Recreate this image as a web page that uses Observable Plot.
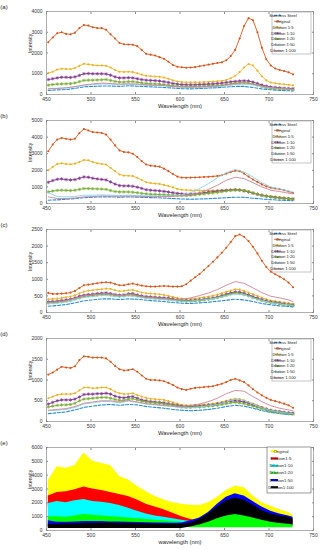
<!DOCTYPE html>
<html>
<head>
<meta charset="utf-8">
<script src="https://cdn.jsdelivr.net/npm/d3@7"></script>
<script src="https://cdn.jsdelivr.net/npm/@observablehq/plot@0.6"></script>
<style>
  html, body { margin: 0; padding: 0; background: #fff; }
  #chart { width: 325px; padding-top: 1px; position: relative; }
  #chart svg { display: block; overflow: visible; }
</style>
</head>
<body>
<div id="chart"></div>
<script>
// ---------- shared axes / categories ----------
const X_TICKS = [450, 500, 550, 600, 650, 700, 750];
const W = [452,457,462,467,472,477,482,487,492,497,502,507,512,517,522,527,532,537,542,547,552,557,562,567,572,577,582,587,592,597,602,607,612,617,622,627,632,637,642,647,652,657,662,667,672,677,682,687,692,697,702,707,712,717,722,727];
const W10 = [452,462,472,482,492,502,512,522,532,542,552,562,572,582,592,602,612,622,632,642,652,662,672,682,692,702,712,722,727];
const SERIES_NAMES = ["Stainless Steel", "Original", "Dilution 1:5", "Dilution 1:10", "Dilution 1:20", "Dilution 1:50", "Dilution 1:100"];
const E_NAMES = ["Original", "Dilution1:5", "Dilution1:10", "Dilution1:20", "Dilution1:50", "Dilution1:100"];
const Y_TICKS_A = [0, 1000, 2000, 3000, 4000];
const Y_TICKS_B = [0, 1000, 2000, 3000, 4000, 5000];
const Y_TICKS_C = [0, 500, 1000, 1500, 2000, 2500];
const Y_TICKS_D = [0, 500, 1000, 1500, 2000];
const Y_TICKS_E = [0, 1000, 2000, 3000, 4000, 5000, 6000];

// ---------- panel (a) ----------
const a_steel = [200,220,240,290,370,390,410,410,390,420,400,380,360,340,310,280,270,290,310,330,360,390,390,340,270,230,200,180,170];
const a_original = [2520,2750,2950,3000,2920,2900,2980,3200,3350,3320,3240,3200,3200,3120,2900,2700,2480,2420,2410,2400,2330,2150,1960,1920,1880,1800,1720,1580,1420,1340,1310,1290,1300,1320,1360,1400,1440,1480,1520,1550,1650,1850,2150,2700,3300,3680,3580,3000,2250,1700,1400,1250,1180,1130,1070,970];
const a_d5 = [1030,1100,1200,1240,1230,1220,1280,1380,1480,1450,1420,1400,1400,1380,1300,1180,1100,1090,1100,1080,1020,960,900,880,870,850,820,760,680,630,600,590,590,590,590,600,610,620,640,660,700,780,900,1080,1300,1470,1400,1150,880,680,580,540,510,490,470,440];
const a_d10 = [720,760,800,830,830,820,850,920,1000,1010,1000,1000,1000,990,930,850,800,800,810,800,760,720,690,680,670,650,620,580,530,500,480,470,470,470,480,490,500,510,530,550,580,610,630,650,660,650,600,530,460,400,360,340,320,300,290,280];
const a_d20 = [450,480,500,510,515,520,560,620,680,690,690,700,710,720,680,630,600,600,620,620,590,560,530,520,510,500,480,450,420,400,390,380,380,390,390,400,410,420,430,450,480,510,540,560,570,560,510,450,380,330,300,280,270,260,250,240];
const a_d50 = [290,300,320,370,440,480,510,500,470,490,470,440,430,420,380,350,340,350,370,390,430,480,500,460,380,320,280,250,240];
const a_d100 = [270,290,320,380,460,510,550,530,500,520,500,470,450,430,390,370,360,370,390,410,460,520,560,500,400,330,290,260,250];

// ---------- panel (b) ----------
const b_steel = [200,220,250,300,350,380,400,400,380,400,380,360,350,330,300,270,260,270,290,320,350,380,370,320,270,230,200,180,170];
const b_original = [3150,3550,3850,3950,3900,3850,3900,4250,4480,4400,4300,4280,4250,4150,3850,3500,3200,3100,3080,3000,2800,2550,2350,2280,2250,2220,2100,1950,1780,1620,1560,1550,1560,1570,1580,1600,1610,1630,1660,1700,1800,1900,1970,1950,1800,1620,1450,1300,1150,1030,950,900,860,800,720,640];
const b_d5 = [2000,2200,2380,2420,2380,2360,2400,2500,2620,2600,2500,2420,2380,2350,2150,1950,1750,1680,1670,1650,1550,1420,1280,1230,1200,1180,1120,1050,970,880,830,810,800,790,780,780,780,780,790,800,810,830,850,840,800,730,650,580,520,470,430,400,370,340,310,290];
const b_d10 = [1280,1380,1460,1480,1440,1420,1440,1520,1600,1580,1520,1480,1450,1420,1300,1170,1080,1060,1060,1040,980,910,830,800,780,760,730,690,650,610,580,560,560,580,610,650,680,710,740,770,790,810,820,810,760,700,620,550,490,440,400,370,340,310,290,270];
const b_d20 = [700,750,790,800,790,780,800,850,900,900,890,880,870,850,780,720,700,700,700,680,650,610,580,560,550,540,530,510,500,490,480,470,490,520,550,580,610,640,670,710,750,790,810,800,770,710,640,570,500,440,400,360,330,310,290,270];
const b_d50 = [650,420,400,420,500,500,520,500,480,500,480,460,450,450,460,520,650,900,1200,1550,1850,2050,1900,1600,1250,1000,880,750,680];
const b_d100 = [400,300,300,330,400,420,450,440,430,450,430,420,410,420,430,460,520,650,850,1100,1400,1580,1500,1250,1000,800,720,620,580];

// ---------- panel (c) ----------
const c_steel = [190,210,240,290,350,380,410,410,390,410,400,370,350,330,300,280,270,290,310,340,370,400,380,330,270,230,200,180,170];
const c_original = [590,560,560,570,580,600,650,740,820,840,860,880,900,910,900,860,820,820,850,870,840,810,790,780,780,790,800,790,780,780,790,850,960,1060,1160,1280,1400,1530,1660,1800,1950,2120,2300,2350,2280,2150,1980,1780,1560,1370,1230,1150,1080,1000,900,760];
const c_d5 = [400,410,420,440,460,480,520,580,630,660,670,690,700,720,710,670,640,650,670,680,640,600,580,570,560,550,530,500,470,440,420,410,410,420,440,460,480,510,540,580,620,660,700,690,650,600,550,500,450,400,360,340,320,300,280,250];
const c_d10 = [320,330,340,360,380,400,440,490,520,540,550,570,580,590,570,540,520,530,560,570,530,500,480,470,460,450,440,430,410,380,370,360,360,370,380,400,420,440,470,510,550,590,620,610,580,530,480,430,390,350,320,300,280,260,240,230];
const c_d20 = [290,300,310,320,340,360,400,440,480,500,510,530,540,550,530,510,490,500,530,540,500,470,450,440,430,420,410,400,380,360,350,340,340,350,360,380,400,420,450,480,520,560,580,570,540,500,450,400,360,330,300,280,260,240,230,220];
const c_d50 = [260,280,320,390,450,480,510,500,470,500,470,430,410,390,360,340,340,370,400,440,500,560,530,440,360,300,260,230,210];
const c_d100 = [300,320,360,430,500,530,560,550,510,540,500,460,440,420,400,400,440,510,590,690,820,930,880,740,600,490,440,380,330];

// ---------- panel (d) ----------
const d_steel = [190,210,230,280,340,370,400,410,390,410,400,360,340,320,290,270,260,270,290,320,360,390,370,320,260,220,190,170,160];
const d_original = [1130,1180,1250,1320,1300,1290,1330,1480,1570,1560,1540,1540,1540,1520,1440,1340,1260,1230,1240,1260,1200,1110,1030,1000,1000,990,970,930,880,820,780,760,790,810,820,830,840,850,880,910,950,1000,1030,990,950,870,780,700,630,570,520,490,460,430,390,330];
const d_d5 = [560,600,640,660,660,660,680,750,820,820,800,810,820,820,780,720,680,660,670,680,640,600,570,550,540,530,520,490,460,430,400,390,390,400,400,410,420,430,450,470,500,530,550,540,510,470,430,390,350,310,280,260,240,220,210,200];
const d_d10 = [420,460,500,520,520,520,540,590,650,660,660,670,670,680,660,610,580,570,590,600,560,520,500,480,470,460,450,430,410,390,370,360,360,370,370,380,390,400,420,440,470,490,500,490,470,440,400,360,330,300,270,250,240,220,210,200];
const d_d20 = [350,370,390,400,400,410,440,500,540,550,560,570,580,580,560,530,510,510,540,550,520,490,470,460,450,440,420,410,390,370,350,340,340,350,350,360,370,380,390,410,430,450,460,450,430,400,370,340,310,280,250,230,220,200,190,180];
const d_d50 = [260,270,290,340,420,450,480,480,450,490,460,420,400,380,360,330,330,350,380,410,470,540,510,420,330,270,230,200,190];
const d_d100 = [270,290,310,360,440,470,500,500,470,510,470,430,410,390,370,360,380,420,480,560,670,750,730,600,480,380,320,280,260];

// ---------- panel (e): envelopes of the many spectra ----------
const e_orig_hi = [3600,4600,4500,4700,5600,5000,4850,4700,3900,3650,3200,2800,2450,2200,2000,1900,1820,1800,2000,2400,2900,3200,3100,2500,2000,1750,1500,1300,1100];
const e_orig_lo = [2300,2500,2550,2600,2800,2700,2600,2400,2300,2200,1950,1700,1450,1200,1000,850,700,650,700,900,1200,1300,1200,1000,800,700,600,500,450];
const e_d5_hi = [2500,2750,2800,2950,3150,3000,2900,2750,2600,2450,2200,1900,1700,1500,1250,1000,800,650,650,800,1000,1100,1000,900,700,600,500,450,400];
const e_d5_lo = [1700,1900,1800,1900,2000,1950,1900,1800,1600,1400,1200,1050,900,800,700,600,500,450,450,450,450,450,450,450,400,400,350,350,300];
const e_d10_hi = [1950,2100,2000,2150,2250,2100,2050,1950,1800,1600,1400,1200,1050,950,850,750,650,600,650,800,950,1050,950,800,650,550,480,430,400];
const e_d10_lo = [700,700,700,750,800,800,750,700,650,600,550,500,480,450,420,400,400,400,400,400,400,400,400,400,350,350,300,300,300];
const e_d20_hi = [1000,1000,950,1050,1150,1100,1050,1000,950,900,850,800,750,700,650,600,600,700,850,1000,1150,1250,1150,1000,850,700,600,550,500];
const e_d20_lo = [250,250,250,250,250,250,250,250,250,250,250,250,250,250,250,250,200,200,200,200,200,200,200,200,200,200,200,200,200];
const e_d50_hi = [700,600,600,620,650,650,650,620,620,600,580,560,550,540,530,550,700,900,1300,1900,2400,2650,2500,2100,1700,1400,1200,1050,950];
const e_d50_lo = [250,250,250,250,250,250,250,250,250,250,250,250,250,250,250,250,400,500,700,900,1100,1200,1100,950,800,650,550,500,450];
const e_d100_hi = [450,450,480,480,520,530,550,550,520,520,500,480,470,460,450,450,550,800,1200,1700,2150,2350,2200,1850,1450,1200,1050,950,850];
const e_d100_lo = [150,150,150,150,150,150,150,150,150,150,150,150,150,150,150,150,250,400,600,850,1050,1150,1050,900,750,600,500,450,400];

// ---------- styles ----------
const SERIES_COLORS = ["#2b8fd6", "#D95319", "#EDB120", "#7E2F8E", "#77AC30", "#86d2f0", "#cf8396"];
const SERIES_DASH = ["3,1.6", null, null, null, null, null, null];
const SERIES_MARK = [null, "circle", "circle", "asterisk", "asterisk", null, null];
const E_COLORS = ["#FFFF00", "#FF0000", "#00FFFF", "#00FF00", "#0000FF", "#000000"];
const FONT = "'Liberation Sans', Arial, Helvetica, sans-serif";

const toPts = (xs, ys) => xs.map((x, i) => ({x, y: ys[i]}));
const toBand = (xs, lo, hi) => xs.map((x, i) => ({x, lo: lo[i], hi: hi[i]}));

function axes(yTicks, xLabel) {
  const fmt = d3.format("d");
  return [
    Plot.frame({stroke: "#8c8c8c", strokeWidth: 0.7}),
    Plot.axisX({ticks: X_TICKS, tickSize: 0, tickPadding: 3, tickFormat: fmt, label: null, fontSize: 5, color: "#333"}),
    Plot.axisX({ticks: X_TICKS, tickSize: -2, tickFormat: () => "", label: null, color: "#8c8c8c"}),
    Plot.axisX({anchor: "top", ticks: X_TICKS, tickSize: -2, tickFormat: () => "", label: null, color: "#8c8c8c"}),
    Plot.axisY({ticks: yTicks, tickSize: 0, tickPadding: 4, tickFormat: fmt, label: null, fontSize: 5, color: "#333"}),
    Plot.axisY({ticks: yTicks, tickSize: -2, tickFormat: () => "", label: null, color: "#8c8c8c"}),
    Plot.axisY({anchor: "right", ticks: yTicks, tickSize: -2, tickFormat: () => "", label: null, color: "#8c8c8c"}),
    Plot.text([xLabel], {text: d => d, frameAnchor: "bottom", dy: 13.5, fontSize: 5.8, fill: "#222"}),
    Plot.text(["Intensity"], {text: d => d, frameAnchor: "left", rotate: -90, dx: -16, fontSize: 5.2, fill: "#222"})
  ];
}

const MT = 10, MR = 12, ML = 46, W_SVG = 325;

function linePanel(tag, yTicks, seriesData) {
  const marks = [];
  seriesData.forEach((pts, i) => {
    marks.push(Plot.line(pts, {x: "x", y: "y", stroke: SERIES_COLORS[i], strokeWidth: i === 0 ? 1.1 : 0.9, strokeDasharray: SERIES_DASH[i]}));
    if (SERIES_MARK[i] === "circle") marks.push(Plot.dot(pts, {x: "x", y: "y", r: 1.05, fill: SERIES_COLORS[i], stroke: "none"}));
    if (SERIES_MARK[i] === "asterisk") marks.push(Plot.dot(pts, {x: "x", y: "y", r: 1.6, symbol: "asterisk", stroke: SERIES_COLORS[i], strokeWidth: 0.7}));
  });
  const svg = Plot.plot({
    width: W_SVG, height: 109, marginTop: MT, marginBottom: 16, marginLeft: ML, marginRight: MR,
    style: {fontFamily: FONT, background: "white"},
    x: {domain: [450, 750]},
    y: {domain: [0, yTicks[yTicks.length - 1]]},
    marks: [...marks, ...axes(yTicks, "Wavelength (nm)")]
  });
  const s = d3.select(svg);
  s.append("text").attr("x", 4).attr("y", 8).attr("font-size", 6).attr("font-family", FONT).attr("fill", "#222").text(tag);
  // legend
  const bw = 39, bh = 42;
  const g = s.append("g").attr("transform", `translate(${W_SVG - MR - 2 - bw},${MT + 1})`);
  g.append("rect").attr("width", bw).attr("height", bh).attr("fill", "white").attr("stroke", "#8c8c8c").attr("stroke-width", 0.5);
  SERIES_NAMES.forEach((name, i) => {
    const y = 3.4 + i * 5.9;
    g.append("line").attr("x1", 2).attr("x2", 9).attr("y1", y).attr("y2", y)
      .attr("stroke", SERIES_COLORS[i]).attr("stroke-width", i === 0 ? 1.2 : 0.8)
      .attr("stroke-dasharray", SERIES_DASH[i]);
    if (SERIES_MARK[i]) g.append("circle").attr("cx", 5.5).attr("cy", y).attr("r", 0.9).attr("fill", SERIES_COLORS[i]);
    g.append("text").attr("x", 11).attr("y", y).attr("dy", "0.35em").attr("font-size", 4.2)
      .attr("font-family", FONT).attr("fill", "#222").text(name);
  });
  return svg;
}

function bandPanel(tag, yTicks, bands) {
  const marks = bands.map((b, i) => Plot.areaY(b, {x: "x", y1: "lo", y2: "hi", fill: E_COLORS[i]}));
  const svg = Plot.plot({
    width: W_SVG, height: 113, marginTop: MT, marginBottom: 20, marginLeft: ML, marginRight: MR,
    style: {fontFamily: FONT, background: "white"},
    x: {domain: [450, 750]},
    y: {domain: [0, yTicks[yTicks.length - 1]]},
    marks: [...marks, ...axes(yTicks, "wavelength (nm)")]
  });
  const s = d3.select(svg);
  s.append("text").attr("x", 4).attr("y", 8).attr("font-size", 6).attr("font-family", FONT).attr("fill", "#222").text(tag);
  const bw = 44, bh = 46;
  const g = s.append("g").attr("transform", `translate(${W_SVG - MR - 2 - bw},${MT})`);
  g.append("rect").attr("width", bw).attr("height", bh).attr("fill", "white").attr("stroke", "#555").attr("stroke-width", 0.6);
  E_NAMES.forEach((name, i) => {
    const y = 4.2 + i * 7.2;
    g.append("line").attr("x1", 3.7).attr("x2", 11).attr("y1", y).attr("y2", y)
      .attr("stroke", E_COLORS[i]).attr("stroke-width", 2)
      .attr("stroke-dasharray", i === 3 ? "2.5,0.8" : null);
    g.append("text").attr("x", 14).attr("y", y).attr("dy", "0.35em").attr("font-size", 4.4)
      .attr("font-family", FONT).attr("fill", "#222").text(name);
  });
  return svg;
}

const chart = document.getElementById("chart");
chart.append(linePanel("(a)", Y_TICKS_A, [toPts(W10, a_steel), toPts(W, a_original), toPts(W, a_d5), toPts(W, a_d10), toPts(W, a_d20), toPts(W10, a_d50), toPts(W10, a_d100)]));
chart.append(linePanel("(b)", Y_TICKS_B, [toPts(W10, b_steel), toPts(W, b_original), toPts(W, b_d5), toPts(W, b_d10), toPts(W, b_d20), toPts(W10, b_d50), toPts(W10, b_d100)]));
chart.append(linePanel("(c)", Y_TICKS_C, [toPts(W10, c_steel), toPts(W, c_original), toPts(W, c_d5), toPts(W, c_d10), toPts(W, c_d20), toPts(W10, c_d50), toPts(W10, c_d100)]));
chart.append(linePanel("(d)", Y_TICKS_D, [toPts(W10, d_steel), toPts(W, d_original), toPts(W, d_d5), toPts(W, d_d10), toPts(W, d_d20), toPts(W10, d_d50), toPts(W10, d_d100)]));
chart.append(bandPanel("(e)", Y_TICKS_E, [
  toBand(W10, e_orig_lo, e_orig_hi), toBand(W10, e_d5_lo, e_d5_hi), toBand(W10, e_d10_lo, e_d10_hi),
  toBand(W10, e_d20_lo, e_d20_hi), toBand(W10, e_d50_lo, e_d50_hi), toBand(W10, e_d100_lo, e_d100_hi)
]));
</script>
</body>
</html>
